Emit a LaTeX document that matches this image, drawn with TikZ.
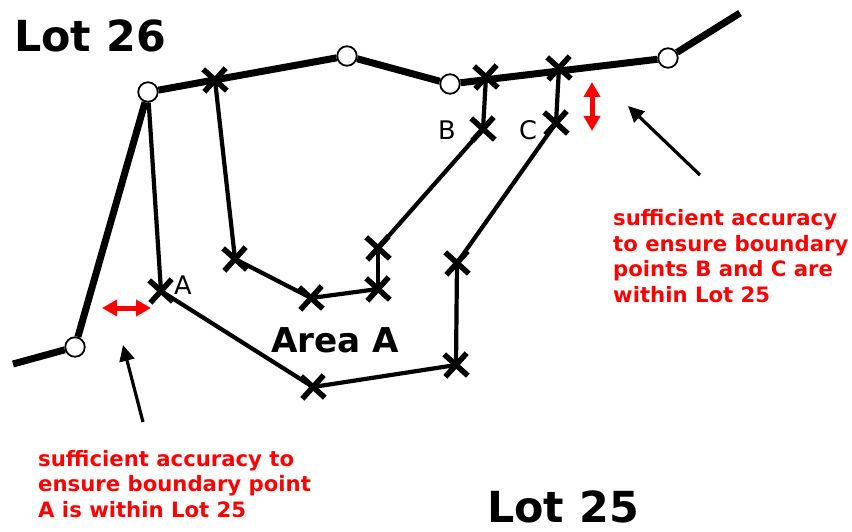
\documentclass[tikz,border=0pt]{standalone}
\usepackage{fontspec}
\setmainfont{DejaVu Sans}
\usetikzlibrary{arrows.meta,shapes.misc}
\tikzset{
  lotpoint/.style={fill=white, minimum size=19.5pt, inner sep=0pt, circle, draw, line width=1.8pt},
  markpoint/.style={cross out, draw, minimum size=17pt, inner sep=0pt, line width=5.5pt, rotate=3},
  lotline/.style={line width=7pt},
  arealine/.style={line width=4.2pt},
  redarrow/.style={{Triangle[length=15pt,width=16pt]}-{Triangle[length=15pt,width=16pt]}, red, line width=5pt},
  blackarrow/.style={-{Triangle[length=16pt,width=15pt]}, line width=3.2pt},
  lotlabel/.style={anchor=base west, inner sep=0pt, font=\fontsize{42.8}{43}\selectfont\bfseries},
  pointlabel/.style={anchor=base, inner sep=0pt, font=\fontsize{25.6}{26}\selectfont},
  rednote/.style={anchor=base west, inner sep=0pt, align=left, text=red, font=\fontsize{21.2}{25.5}\selectfont\bfseries}
}
\begin{document}
\begin{tikzpicture}[x=1pt, y=-1pt]
  \useasboundingbox (0,0) rectangle (852,532);
  \coordinate (leftend) at (13,364);
  \coordinate (rightend) at (740,13);
  \draw
    (75,347) node[lotpoint] (p1){}
    (148,92) node[lotpoint] (p2){}
    (347,56) node[lotpoint] (p3){}
    (450,84) node[lotpoint] (p4){}
    (668,58) node[lotpoint] (p5){};
  \draw
    (215,80) node[markpoint] (m1){}
    (486,77) node[markpoint] (m2){}
    (559,68) node[markpoint] (m3){}
    (483,129) node[markpoint] (b){}
    (556,123) node[markpoint] (c){}
    (235,259) node[markpoint] (m4){}
    (311,298) node[markpoint] (m5){}
    (378,289) node[markpoint] (m6){}
    (378,248) node[markpoint] (m7){}
    (161,291) node[markpoint] (a){}
    (313,387) node[markpoint] (m8){}
    (456,365) node[markpoint] (m9){}
    (457,263) node[markpoint] (m10){};
  \begin{scope}[lotline]
    \draw (leftend) to (p1);
    \draw (p1) to (p2);
    \draw (p2) to (p3);
    \draw (p3) to (p4);
    \draw (p4) to (p5);
    \draw (p5) to (rightend);
  \end{scope}
  \begin{scope}[arealine]
    \draw (p2) to (a.center);
    \draw (a.center) to (m8.center);
    \draw (m8.center) to (m9.center);
    \draw (m9.center) to (m10.center);
    \draw (m10.center) to (c.center);
    \draw (c.center) to (m3.center);
    \draw (m1.center) to (m4.center);
    \draw (m4.center) to (m5.center);
    \draw (m5.center) to (m6.center);
    \draw (m6.center) to (m7.center);
    \draw (m7.center) to (b.center);
    \draw (b.center) to (m2.center);
  \end{scope}
  \node[lotlabel] (lot26) at (14,52) {Lot 26};
  \node[lotlabel] (lot25) at (487,522) {Lot 25};
  \node[lotlabel, font=\fontsize{34.2}{35}\selectfont\bfseries] (areaa) at (271,352) {Area A};
  \node[pointlabel] (labela) at (183,294) {A};
  \node[pointlabel] (labelb) at (447,140) {B};
  \node[pointlabel] (labelc) at (528,140) {C};
  \node[rednote] (noteright) at (613,302) {sufficient accuracy\\to ensure boundary\\points B and C are\\within Lot 25};
  \node[rednote] (noteleft) at (38,517) {sufficient accuracy to\\ensure boundary point\\A is within Lot 25};
  \coordinate (h1) at (102,308);
  \coordinate (h2) at (151,308);
  \coordinate (v1) at (592,82);
  \coordinate (v2) at (592,131);
  \draw[redarrow] (h1) to (h2);
  \draw[redarrow] (v1) to (v2);
  \coordinate (t1) at (700,175);
  \coordinate (t2) at (628,106);
  \coordinate (t3) at (143,422);
  \coordinate (t4) at (123,345);
  \draw[blackarrow] (t1) to (t2);
  \draw[blackarrow] (t3) to (t4);
\end{tikzpicture}
\end{document}
